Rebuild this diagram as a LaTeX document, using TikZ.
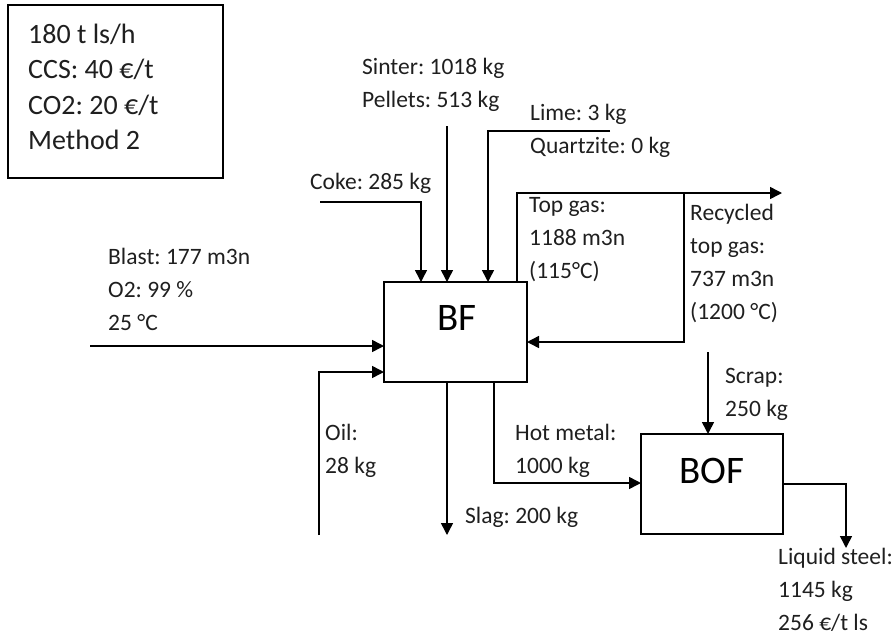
\documentclass[tikz,border=0pt]{standalone}
\usepackage{fontspec}
\setmainfont{Carlito}
\usetikzlibrary{arrows.meta}
\begin{document}
\frenchspacing
\begin{tikzpicture}[x=1pt,y=-1pt,
  ln/.style={line width=1.5pt},
  arr/.style={ln,-{Triangle[length=12pt,width=12pt]}},
  lbl/.style={anchor=north west,inner sep=0pt,align=left,text=black!88,
    font=\fontsize{23.5}{33}\selectfont},
  big/.style={anchor=base west,inner sep=0pt,font=\fontsize{39}{44}\selectfont},
  box/.style={draw,line width=1.5pt,inner sep=0pt}]
\useasboundingbox (0,0) rectangle (894,635);
\def\S{\strut}
% info box
\node[box,minimum width=215pt,minimum height=173pt] (info) at (115.5,91.5) {};
\node[lbl,font=\fontsize{28}{35.5}\selectfont] (infot) at (28,43-24.85)
  {\S180 t ls/h\\CCS: 40 €/t\\CO2: 20 €/t\\Method 2};
% furnaces
\node[box,minimum width=143pt,minimum height=100pt] (bf) at (455.5,332) {};
\node[big] (bft) at (437,330) {BF};
\node[box,minimum width=142pt,minimum height=100pt] (bof) at (712,484) {};
\node[big] (boft) at (679,483) {BOF};
% coordinates
\coordinate (cokeS) at (320,202);
\coordinate (cokeE) at (421,282);
\coordinate (sintS) at (447,126);
\coordinate (sintE) at (447,282);
\coordinate (limeS) at (610,131);
\coordinate (limeE) at (488,282);
\coordinate (topS) at (517,282);
\coordinate (topE) at (782,193);
\coordinate (recS) at (684,193);
\coordinate (recE) at (527,342);
\coordinate (blastS) at (90,346);
\coordinate (blastE) at (384,346);
\coordinate (oilS) at (319,535);
\coordinate (oilE) at (384,372);
\coordinate (slagS) at (447,382);
\coordinate (slagE) at (447,535);
\coordinate (hmS) at (494,382);
\coordinate (hmE) at (641,483);
\coordinate (scrS) at (708,352);
\coordinate (scrE) at (708,434);
\coordinate (lsS) at (783,484);
\coordinate (lsE) at (846,548);
% connectors
\draw[arr] (cokeS) -| (cokeE);
\draw[arr] (sintS) -- (sintE);
\draw[arr] (limeS) -| (limeE);
\draw[arr] (topS) |- (topE);
\draw[arr] (recS) |- (recE);
\draw[arr] (blastS) -- (blastE);
\draw[arr] (oilS) |- (oilE);
\draw[arr] (slagS) -- (slagE);
\draw[arr] (hmS) |- (hmE);
\draw[arr] (scrS) -- (scrE);
\draw[arr] (lsS) -| (lsE);
% labels
\node[lbl] (lsinter) at (362,74-23.1) {\S Sinter: 1018 kg\\Pellets: 513 kg};
\node[lbl] (llime) at (530,120-23.1) {\S Lime: 3 kg\\Quartzite: 0 kg};
\node[lbl] (lcoke) at (310,189-23.1) {\S Coke: 285 kg};
\node[lbl] (ltop) at (529,212-23.1) {\S Top gas:\\1188 m3n\\(115°C)};
\node[lbl] (lrec) at (690,220-23.1) {\S Recycled\\top gas:\\737 m3n\\(1200 °C)};
\node[lbl] (lblast) at (108,264-23.1) {\S Blast: 177 m3n\\O2: 99 \%\\25 °C};
\node[lbl] (loil) at (325,440-23.1) {\S Oil:\\28 kg};
\node[lbl] (lslag) at (465,523-23.1) {\S Slag: 200 kg};
\node[lbl] (lhm) at (515,440-23.1) {\S Hot metal:\\1000 kg};
\node[lbl] (lscrap) at (725,383-23.1) {\S Scrap:\\250 kg};
\node[lbl] (lls) at (778,564-23.1) {\S Liquid steel:\\1145 kg\\256 €/t ls};
\end{tikzpicture}
\end{document}
